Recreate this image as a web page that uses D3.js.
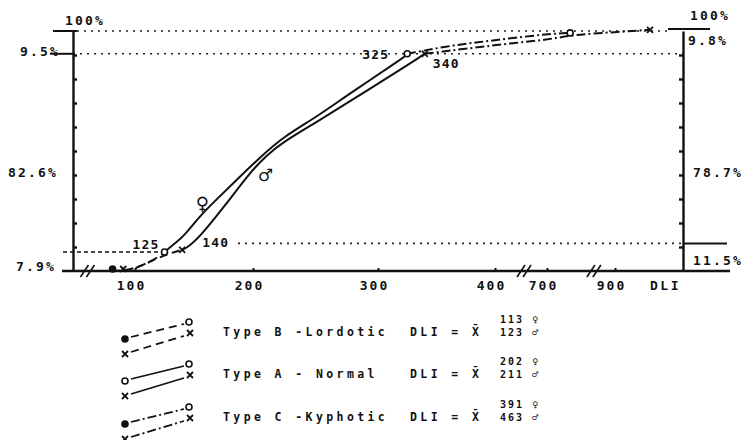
<!DOCTYPE html>
<html lang="en">
<head>
<meta charset="UTF-8">
<script src="https://d3js.org/d3.v7.min.js"></script>
<style>
    body {margin: 0; background-color: #fff;}
    svg text {font-family: "DejaVu Sans Mono", monospace; font-weight: bold; fill: #111;}
    path.curve {fill: none; stroke: #111; stroke-width: 2px;}
    line.dots {stroke: #222; stroke-width: 1.6px; stroke-dasharray: 2 5;}
</style>
</head>
<body>
<svg class="chart" width="745" height="440"></svg>
<script type="text/javascript">
// DLI ticks on the broken x axis
const xTicks = [100, 200, 300, 400, 700, 900];
const axisBreaks = [58, 556, 832];
// cumulative percent ticks on both side axes
const yTicks = [10, 20, 30, 40, 50, 60, 70, 80, 90];

// [DLI, cumulative %] curves, female then male, per spine type
const typeBFemale = [[81, 0], [98, 0.4], [119, 5.4], [125, 7.9]];
const typeBMale = [[90, 0], [98, 0.4], [119, 5.4], [131, 7.6], [140, 8.8]];
const typeAFemale = [[125, 7.9], [134, 11.7], [141, 14.2], [155, 22.9], [166, 28.3], [186, 37.9], [206, 47.5], [224, 55.8], [251, 64.2], [278, 74.2], [323, 89.2], [325, 90.5]];
const typeAMale = [[140, 8.8], [145, 10], [155, 14.2], [178, 28.3], [197, 40.8], [211, 48.3], [224, 53.7], [251, 62.1], [278, 70.8], [332, 87.9], [340, 90.5]];
const typeCFemale = [[325, 90.5], [359, 93.7], [387, 95.4], [504, 97.1], [700, 98.7], [768, 99.2]];
const typeCMale = [[340, 90.5], [359, 91.7], [387, 93.3], [504, 95], [700, 96.3], [780, 98.5], [900, 99.5], [1003, 100.5]];

// share of each type: left axis = female, right axis = male
const femaleShares = ["7.9%", "82.6%", "9.5%"];
const maleShares = ["11.5%", "78.7%", "9.8%"];
const femaleCuts = [7.9, 90.5, 100];
const maleCuts = [11.5, 90.2, 100];

// legend rows
const typeNames = ["Type B -Lordotic", "Type A - Normal", "Type C -Kyphotic"];
const femaleMeans = [113, 202, 391];
const maleMeans = [123, 211, 463];

let svg = d3.select('.chart');
let plotLeft = 73, plotRight = 683, plotTop = 31, plotBottom = 271;

let x = d3.scaleLinear()
    .domain(xTicks)
    .range([135, 253, 378, 495, 547, 615]);

let y = d3.scaleLinear()
    .domain([0, 100])
    .range([plotBottom, plotTop]);

let styles = {B: '8 5', A: null, C: '9 3 2 3'};

// reference lines
svg.append('line').attr('class', 'dots')
    .attr('x1', plotLeft + 4).attr('x2', plotRight - 14)
    .attr('y1', y(femaleCuts[2])).attr('y2', y(femaleCuts[2]));
svg.append('line').attr('class', 'dots')
    .attr('x1', plotLeft).attr('x2', plotRight)
    .attr('y1', y(femaleCuts[1])).attr('y2', y(femaleCuts[1]));
svg.append('line').attr('class', 'dots')
    .attr('x1', 238).attr('x2', plotRight)
    .attr('y1', y(maleCuts[0])).attr('y2', y(maleCuts[0]));
svg.append('line')
    .attr('x1', 63).attr('x2', x(125) - 4)
    .attr('y1', y(femaleCuts[0])).attr('y2', y(femaleCuts[0]))
    .attr('stroke', '#111').attr('stroke-width', 1.4).attr('stroke-dasharray', '4 3');

// side axes
let leftAxis = svg.append('g')
    .attr('transform', 'translate(' + plotLeft + ',0)')
    .call(d3.axisLeft(y).tickValues(yTicks).tickSize(-4).tickSizeOuter(0).tickFormat(''));
let rightAxis = svg.append('g')
    .attr('transform', 'translate(' + plotRight + ',0)')
    .call(d3.axisRight(y).tickValues(yTicks).tickSize(-4).tickSizeOuter(0).tickFormat(''));
[leftAxis, rightAxis].forEach(a => {
    a.select('.domain').attr('stroke', '#111').attr('stroke-width', 2.4);
    a.selectAll('.tick line').attr('stroke', '#111').attr('stroke-width', 2.4);
});

// x axis
svg.append('line')
    .attr('x1', 62).attr('x2', 730).attr('y1', plotBottom).attr('y2', plotBottom)
    .attr('stroke', '#111').attr('stroke-width', 2.4);
let xAxis = svg.append('g')
    .attr('transform', 'translate(0,' + plotBottom + ')')
    .call(d3.axisBottom(x).tickValues(xTicks).tickSize(-3).tickPadding(10));
xAxis.select('.domain').remove();
xAxis.selectAll('.tick line').attr('stroke', '#111').attr('stroke-width', 2);
xAxis.selectAll('.tick text')
    .attr('font-size', 13).attr('letter-spacing', 2).attr('dx', -4)
    .attr('font-family', '"DejaVu Sans Mono", monospace').attr('fill', '#111');
svg.append('text').attr('x', 650).attr('y', 290)
    .attr('font-size', 13).attr('letter-spacing', 2.5).text('DLI');

axisBreaks.forEach(b => {
    [0, 6].forEach(o => {
        svg.append('line')
            .attr('x1', x(b) + o - 5).attr('y1', plotBottom + 6)
            .attr('x2', x(b) + o + 3).attr('y2', plotBottom - 6)
            .attr('stroke', '#111').attr('stroke-width', 1.6);
    });
});

// axis end caps and share labels
let caps = [
    [53, 77, y(100)], [50, plotLeft, y(femaleCuts[1])],
    [668, 710, y(100) - 2], [plotRight, 727, y(maleCuts[0])]
];
caps.forEach(c => {
    svg.append('line').attr('x1', c[0]).attr('x2', c[1]).attr('y1', c[2]).attr('y2', c[2])
        .attr('stroke', '#111').attr('stroke-width', 2);
});

let sideText = (tx, ty, t) => svg.append('text')
    .attr('x', tx).attr('y', ty).attr('font-size', 13).attr('letter-spacing', 2.2).text(t);
sideText(65, 25, '100%');
sideText(20, y(femaleCuts[1]) + 2, femaleShares[2]);
sideText(8, 177, femaleShares[1]);
sideText(16, plotBottom, femaleShares[0]);
sideText(690, 20, '100%');
sideText(688, 45, maleShares[2]);
sideText(693, 177, maleShares[1]);
sideText(693, 265, maleShares[0]);

// curves
let line = d3.line()
    .x(d => x(d[0]))
    .y(d => y(d[1]))
    .curve(d3.curveBasis);

let curves = [
    [typeBFemale, 'B'], [typeBMale, 'B'],
    [typeAFemale, 'A'], [typeAMale, 'A'],
    [typeCFemale, 'C'], [typeCMale, 'C']
];
svg.selectAll('path.curve').data(curves).enter().append('path')
    .attr('class', 'curve')
    .attr('d', d => line(d[0]))
    .attr('stroke-dasharray', d => styles[d[1]]);

function circleMark(g, cx, cy, filled) {
    g.append('circle').attr('cx', cx).attr('cy', cy).attr('r', 3)
        .attr('fill', filled ? '#111' : '#fff').attr('stroke', '#111').attr('stroke-width', 1.6);
}
function crossMark(g, cx, cy) {
    g.append('path')
        .attr('d', 'M' + (cx - 3) + ',' + (cy - 3) + 'L' + (cx + 3) + ',' + (cy + 3) +
            'M' + (cx + 3) + ',' + (cy - 3) + 'L' + (cx - 3) + ',' + (cy + 3))
        .attr('stroke', '#111').attr('stroke-width', 1.8);
}

// curve end markers
let fEnds = [typeBFemale[0], typeAFemale[0], typeCFemale[0], typeCFemale[typeCFemale.length - 1]];
fEnds.forEach((d, i) => circleMark(svg, x(d[0]), y(d[1]) - (i === 0 ? 2 : 0), i === 0));
let mEnds = [typeBMale[0], typeAMale[0], typeCMale[0], typeCMale[typeCMale.length - 1]];
mEnds.forEach((d, i) => crossMark(svg, x(d[0]), y(d[1]) - (i === 0 ? 2 : 0)));

// DLI labels at the type boundaries
let pt = (d, dx, dy, anchor) => svg.append('text')
    .attr('x', x(d[0]) + dx).attr('y', y(d[1]) + dy)
    .attr('text-anchor', anchor).attr('font-size', 13).attr('letter-spacing', 1.2)
    .text(d[0]);
pt(typeAFemale[0], -5, -3, 'end');
pt(typeAMale[0], 20, -3, 'start');
pt(typeCFemale[0], -18, 5, 'end');
pt(typeCMale[0], 8, 14, 'start');

// sex symbols on the chart
svg.append('text').attr('x', x(157)).attr('y', y(28) + 7)
    .attr('text-anchor', 'middle').attr('font-size', 22)
    .attr('font-family', '"DejaVu Sans", sans-serif').text('♀');
svg.append('text').attr('x', x(210)).attr('y', y(39.6) + 7)
    .attr('text-anchor', 'middle').attr('font-size', 22)
    .attr('font-family', '"DejaVu Sans", sans-serif').text('♂');

// legend
let rowY = [336, 378, 421];
let rowStyle = ['B', 'A', 'C'];
typeNames.forEach((name, i) => {
    let by = rowY[i];
    let g = svg.append('g');
    let dash = styles[rowStyle[i]];
    g.append('line').attr('x1', 131).attr('y1', by + 1).attr('x2', 184).attr('y2', by - 12)
        .attr('stroke', '#111').attr('stroke-width', 1.8).attr('stroke-dasharray', dash);
    g.append('line').attr('x1', 131).attr('y1', by + 16).attr('x2', 184).attr('y2', by)
        .attr('stroke', '#111').attr('stroke-width', 1.8).attr('stroke-dasharray', dash);
    circleMark(g, 125, by + 3, i !== 1);
    crossMark(g, 125, by + 18);
    circleMark(g, 189, by - 14, false);
    crossMark(g, 190, by - 3);

    g.append('text').attr('x', 223).attr('y', by)
        .attr('font-size', 11.5).attr('letter-spacing', 3.4).text(name);
    g.append('text').attr('x', 410).attr('y', by)
        .attr('font-size', 11.5).attr('letter-spacing', 3.4).text('DLI = X\u0304');
    g.append('text').attr('x', 500).attr('y', by - 13)
        .attr('font-size', 10).attr('letter-spacing', 2).text(femaleMeans[i] + ' ♀');
    g.append('text').attr('x', 500).attr('y', by)
        .attr('font-size', 10).attr('letter-spacing', 2).text(maleMeans[i] + ' ♂');
});
</script>
</body>
</html>
